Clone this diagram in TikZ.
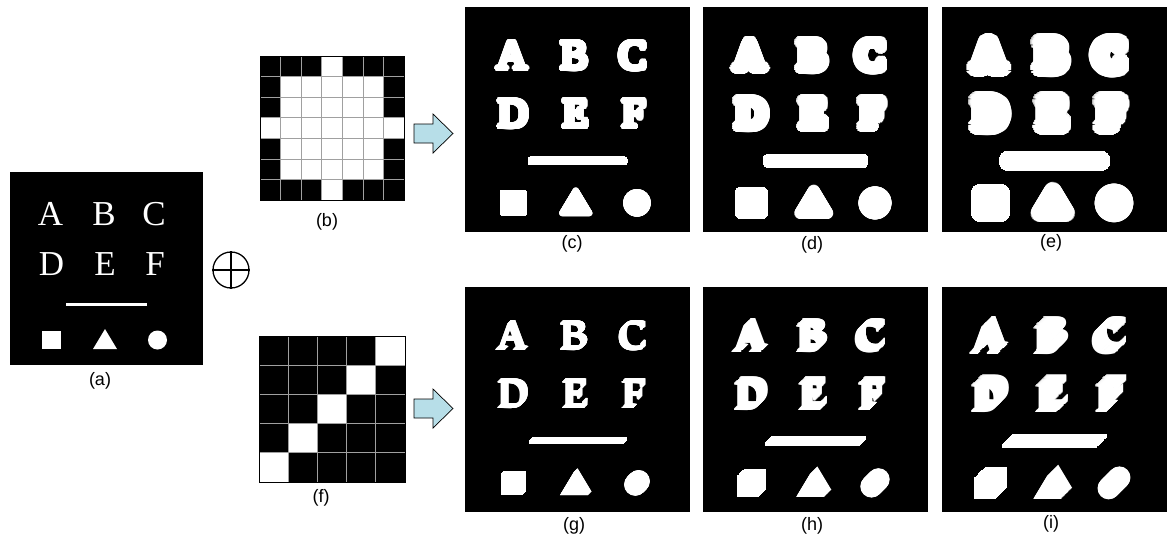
\documentclass[tikz,border=0pt]{standalone}
\usepackage{fontspec}
\setmainfont{Liberation Serif}
\newfontfamily\labelfont{Liberation Sans}
\definecolor{arrowc}{HTML}{B7DEE8}
\definecolor{gridc}{HTML}{A0A0A0}
\tikzset{
  letter/.style={font=\fontsize{35}{35}\selectfont, text=white, inner sep=0pt, anchor=base},
  sublabel/.style={font=\labelfont\fontsize{18}{18}\selectfont, inner sep=0pt},
  panelbg/.style={fill=black},
  shapew/.style={fill=white},
  bigarrow/.style={draw=black, fill=arrowc, line width=0.7pt},
  gridline/.style={draw=gridc, line width=0.7pt},
}
% content of picture (a), in local units of panel (a) (193 x 193)
\newcommand\basecontent[1]{%
  \node[letter] (#1A) at (40.5,53) {A};
  \node[letter] (#1B) at (94,53) {B};
  \node[letter] (#1C) at (144,53) {C};
  \node[letter] (#1D) at (41.5,103) {D};
  \node[letter] (#1E) at (95,103) {E};
  \node[letter] (#1F) at (145,103) {F};
  \fill[shapew] (56,130.5) rectangle (137,133.5);
  \fill[shapew] (32,159) rectangle (51,177);
  \fill[shapew] (83,177) -- (95,157) -- (107,177) -- cycle;
  \fill[shapew] (147.5,168) circle (9.5);
}
\newcommand\copyat[3]{%
  \begin{scope}[shift={(#2,#3)},scale=1.166,transform shape]
    \basecontent{#1}
  \end{scope}}
% isotropic dilation: #1 name, #2 x, #3 y, #4 radius
\newcommand\diskpanel[4]{%
  \fill[panelbg] (#2,#3) rectangle ++(225,225);
  \copyat{#1}{#2}{#3}
  \foreach \rr/\st in {0.25/30,0.5/15,0.75/10,1/7.5}{%
    \foreach \aa in {0,\st,...,359}{%
      \copyat{#1}{{#2+\rr*#4*cos(\aa)}}{{#3+\rr*#4*sin(\aa)}}}}%
}
% diagonal dilation: #1 name, #2 x, #3 y, #4 half length
\newcommand\diagpanel[4]{%
  \fill[panelbg] (#2,#3) rectangle ++(225,225);
  \foreach \tt in {-1,-0.9,-0.8,-0.7,-0.6,-0.5,-0.4,-0.3,-0.2,-0.1,0,0.1,0.2,0.3,0.4,0.5,0.6,0.7,0.8,0.9,1}{%
    \copyat{#1}{{#2+\tt*#4}}{{#3-\tt*#4}}}%
}
\begin{document}
\begin{tikzpicture}[x=1pt,y=-1pt]
\useasboundingbox (0,0) rectangle (1167,539);
\fill[white] (0,0) rectangle (1167,539);

% (a)
\fill[panelbg] (10,172) rectangle ++(193,193);
\begin{scope}[shift={(10,172)}]
  \basecontent{a}
\end{scope}
\node[sublabel] (la) at (100,381) {(a)};

% oplus
\node[circle, draw, line width=1.3pt, minimum size=36pt, inner sep=0pt] (oplus) at (231,270) {};
\draw[line width=1.3pt] (oplus.north) -- (oplus.south);
\draw[line width=1.3pt] (oplus.west) -- (oplus.east);

% (b) 7x7 kernel
\begin{scope}[shift={(260,56)}]
  \fill[black] (0,0) rectangle (144.2,144.2);
  \fill[white] (20.6,20.6) rectangle (123.6,123.6);
  \fill[white] (0,61.8) rectangle (144.2,82.4);
  \fill[white] (61.8,0) rectangle (82.4,144.2);
  \foreach \i in {1,...,6}{%
    \draw[gridline] (\i*20.6,0) -- (\i*20.6,144.2);
    \draw[gridline] (0,\i*20.6) -- (144.2,\i*20.6);}
  \draw[black, line width=1pt] (0,0) rectangle (144.2,144.2);
\end{scope}
\node[sublabel] (lb) at (327,222) {(b)};

% (f) 5x5 kernel
\begin{scope}[shift={(259,336)}]
  \fill[black] (0,0) rectangle (146,146);
  \foreach \r/\c in {0/4,1/3,2/2,3/1,4/0}{%
    \fill[white] (\c*29.2,\r*29.2) rectangle ++(29.2,29.2);}
  \foreach \i in {1,...,4}{%
    \draw[gridline] (\i*29.2,0) -- (\i*29.2,146);
    \draw[gridline] (0,\i*29.2) -- (146,\i*29.2);}
  \draw[black, line width=1pt] (0,0) rectangle (146,146);
\end{scope}
\node[sublabel] (lf) at (321,498) {(f)};

% arrows
\draw[bigarrow] (414,124) -- (433,124) -- (433,114) -- (453,133.5) -- (433,153) -- (433,143) -- (414,143) -- cycle;
\draw[bigarrow] (414,399) -- (433,399) -- (433,389) -- (453,408.5) -- (433,428) -- (433,418) -- (414,418) -- cycle;

% top row: isotropic dilations
\diskpanel{c}{465}{7}{2.8}
\diskpanel{d}{703}{7}{5.6}
\diskpanel{e}{942}{7}{8.4}
\node[sublabel] (lc) at (572,244) {(c)};
\node[sublabel] (ld) at (812,245) {(d)};
\node[sublabel] (le) at (1051,243) {(e)};

% bottom row: diagonal dilations
\diagpanel{g}{465}{287}{1.8}
\diagpanel{h}{703}{287}{3.6}
\diagpanel{i}{942}{287}{5.4}
\node[sublabel] (lg) at (574,526) {(g)};
\node[sublabel] (lh) at (812,526) {(h)};
\node[sublabel] (li) at (1051,524) {(i)};
\end{tikzpicture}
\end{document}
